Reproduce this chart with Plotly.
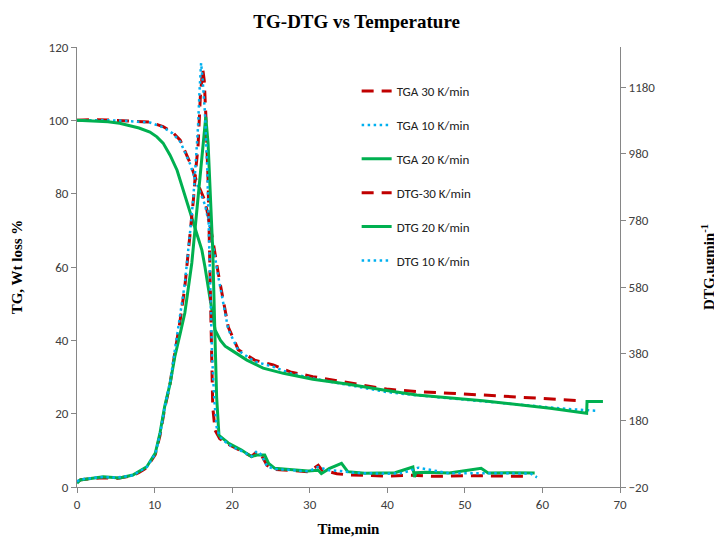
import plotly.graph_objects as go

# TG curves (left axis, %)
tga30_t = [0, 2, 4, 6, 8, 9.4, 11.1, 12.3, 13.3, 14.6, 15.2, 15.9, 16.5, 17.0, 17.5, 18.2, 18.9, 19.5,
           20.8, 22.9, 25.3, 27.5, 30.4, 33, 35.6, 38.2, 39.9, 43.8, 48, 52.3, 57, 61, 65.3]
tga30_y = [100, 100.2, 100.1, 99.9, 99.8, 99.5, 98.3, 96.8, 94.6, 88.3, 84.6, 81, 78, 73, 67.4, 58.4, 50.2, 43.6,
           37.4, 34.6, 33.3, 31.4, 30.1, 29.2, 28.4, 27.3, 26.7, 26.0, 25.6, 25.1, 24.6, 24.2, 23.5]

tga10_t = [0, 2, 4, 6, 8, 9.4, 11.1, 12.3, 13.3, 14.6, 15.2, 15.9, 16.5, 17.0, 17.5, 18.2, 18.9, 19.5,
           20.8, 22.9, 25.3, 27.5, 30.4, 33, 35.6, 38.2, 39.9, 43.8, 48, 52.3, 56.7, 61, 63.1, 67]
tga10_y = [100, 100.1, 100, 99.9, 99.7, 99.4, 98.1, 96.5, 94.2, 88, 84, 80.5, 77, 72, 66.5, 57.5, 49.5, 43,
           37.2, 34.2, 32.8, 31, 29.6, 28.6, 27.6, 26.6, 25.9, 25.0, 24.2, 23.5, 22.7, 21.8, 21.3, 20.8]

tga20_t = [0, 2, 4, 5.5, 6.8, 8, 9.4, 10.3, 11.1, 12, 12.9, 14.1, 15.2, 16.1, 16.5, 17.1, 17.8, 18.5, 19.1,
           19.7, 21.9, 24, 26.6, 30.4, 34.8, 39.9, 43.8, 52.3, 61, 65.7, 65.75, 67.8]
tga20_y = [100, 99.9, 99.6, 99.2, 98.6, 97.9, 96.8, 95.5, 93.8, 90.5, 86.4, 78.3, 71, 64.6, 60, 51.8, 42.8, 40,
           38.4, 37.6, 34.6, 32.4, 31, 29.4, 28.1, 26.3, 25.1, 23.5, 21.5, 20.1, 23.3, 23.3]

# DTG curves (right axis)
dtg30_t = [0, 0.5, 2, 3.4, 5, 6, 7.2, 8, 9, 10.1, 10.7, 11.3, 12, 12.6, 13.3, 13.9, 14.6, 15.0, 15.3, 15.6,
           15.9, 16.2, 16.4, 16.6, 16.9, 17.1, 17.3, 17.5, 17.8, 18.4, 19.5, 20.5, 21.2, 22.5, 23.2, 23.8,
           24.5, 25.5, 27, 28.5, 29.8, 31.1, 31.6, 32.5, 33.5, 35, 37, 40, 43, 46, 50, 54, 57.8]
dtg30_y = [-5, 2, 5, 8, 5, 9, 14, 24, 38, 78, 135, 215, 290, 380, 480, 580, 740, 840, 930, 1000,
           1150, 1235, 1200, 1100, 900, 650, 400, 220, 150, 125, 108, 95, 88, 72, 86, 74,
           45, 33, 30, 28, 26, 45, 30, 26, 20, 16, 14, 13, 15, 12, 14, 13, 12]

dtg20_t = [0, 0.4, 2, 3.4, 5.5, 7.2, 9, 10.1, 10.7, 11.3, 12, 12.6, 13.3, 13.9, 14.8, 15.4, 15.9, 16.3,
           16.6, 16.9, 17.1, 17.5, 17.8, 18.0, 18.3, 19.5, 21.2, 22.5, 23.2, 24.2, 24.7, 25.5, 27, 28.5,
           29.8, 31.1, 31.5, 32.5, 34.1, 34.9, 37.1, 41, 43.3, 43.5, 43.7, 45, 48, 52.1, 53, 56, 59]
dtg20_y = [-9, 1, 6, 11, 7, 16, 41, 82, 142, 221, 290, 370, 440, 502, 652, 802, 920, 1030,
           1090, 1010, 892, 691, 420, 250, 135, 112, 91, 71, 76, 76, 51, 36, 33, 31,
           28, 30, 20, 35, 51, 26, 21, 23, 40, 10, 23, 24, 22, 36, 22, 23, 22]

dtg10_t = [0, 0.5, 2, 3.4, 5, 7.2, 9, 10.1, 10.7, 11.3, 12, 12.6, 13.3, 13.9, 14.6, 15.0, 15.3, 15.6,
           15.8, 16.0, 16.2, 16.5, 16.8, 17.0, 17.2, 17.4, 17.7, 18.0, 18.4, 19.0, 19.5, 20.5, 21.2,
           22.5, 23.2, 23.8, 24.5, 25.5, 27, 28.5, 29.8, 31.1, 32.5, 34, 36, 38, 40, 42, 44, 48, 52,
           56, 58.5, 59.3]
dtg10_y = [-3, 3, 7, 10, 8, 15, 40, 80, 138, 218, 295, 385, 490, 590, 750, 850, 950, 1060,
           1170, 1252, 1200, 1100, 930, 760, 560, 380, 240, 160, 130, 118, 108, 95, 88,
           72, 88, 76, 42, 34, 31, 29, 27, 40, 30, 28, 22, 21, 20, 22, 38, 21, 22,
           21, 20, 9]

RED = '#C00000'
BLUE = '#00B0F0'
GREEN = '#00B050'

red_line = dict(color=RED, width=3, dash='12px,8px')
blue_line = dict(color=BLUE, width=2.5, dash='2.5px,3.5px')
green_line = dict(color=GREEN, width=3)

fig = go.Figure()
series = [
    ('TGA 30 K/min', tga30_t, tga30_y, red_line, 'y'),
    ('TGA 10 K/min', tga10_t, tga10_y, blue_line, 'y'),
    ('TGA 20 K/min', tga20_t, tga20_y, green_line, 'y'),
    ('DTG-30 K/min', dtg30_t, dtg30_y, red_line, 'y2'),
    ('DTG 20 K/min', dtg20_t, dtg20_y, green_line, 'y2'),
    ('DTG 10 K/min', dtg10_t, dtg10_y, blue_line, 'y2'),
]
for name, t, y, line, ax in series:
    fig.add_trace(go.Scatter(x=t, y=y, name=name, mode='lines', line=line,
                             yaxis=ax, legendgroup=name))

tick_font = dict(family='Carlito, Lato, sans-serif', size=13, color='#404040')
title_font = dict(family='Liberation Serif, serif', size=15, color='black')

# page has an 8px body margin, so the figure is drawn 8px smaller
fig.update_layout(
    width=714, height=534,
    margin=dict(l=69, r=102, t=39, b=55, autoexpand=False),
    paper_bgcolor='white', plot_bgcolor='white',
    title=dict(text='<b>TG-DTG vs Temperature</b>', x=0.515, xref='paper', y=0.975, yanchor='middle',
               font=dict(family='Liberation Serif, serif', size=19, color='black')),
    xaxis=dict(range=[0, 70], dtick=10, showgrid=False, zeroline=False, automargin=False,
               showline=True, linecolor='#868686', ticks='outside', ticklen=5, tickcolor='#868686',
               tickfont=tick_font, title=dict(text='<b>Time,min</b>', font=title_font, standoff=12)),
    yaxis=dict(range=[0, 120], dtick=20, showgrid=False, zeroline=False, automargin=False,
               showline=True, linecolor='#868686', ticks='outside', ticklen=5, tickcolor='#868686',
               tickfont=tick_font, title=dict(text='<b>TG, Wt loss %</b>', font=title_font, standoff=22)),
    yaxis2=dict(range=[-20, 1300], tickvals=[-20, 180, 380, 580, 780, 980, 1180], overlaying='y', side='right',
                showgrid=False, zeroline=False, showline=True, linecolor='#868686', automargin=False,
                ticks='outside', ticklen=5, tickcolor='#868686', tickfont=tick_font,
                title=dict(text='<b>DTG,ugmin<sup>-1</sup></b>', font=title_font, standoff=49)),
    legend=dict(x=0.515, y=0.934, xanchor='left', yanchor='top', bgcolor='rgba(0,0,0,0)',
                font=dict(family='Carlito, Lato, sans-serif', size=13, color='#222222'),
                tracegroupgap=14),
    showlegend=True,
)

fig.write_html("out.html")
